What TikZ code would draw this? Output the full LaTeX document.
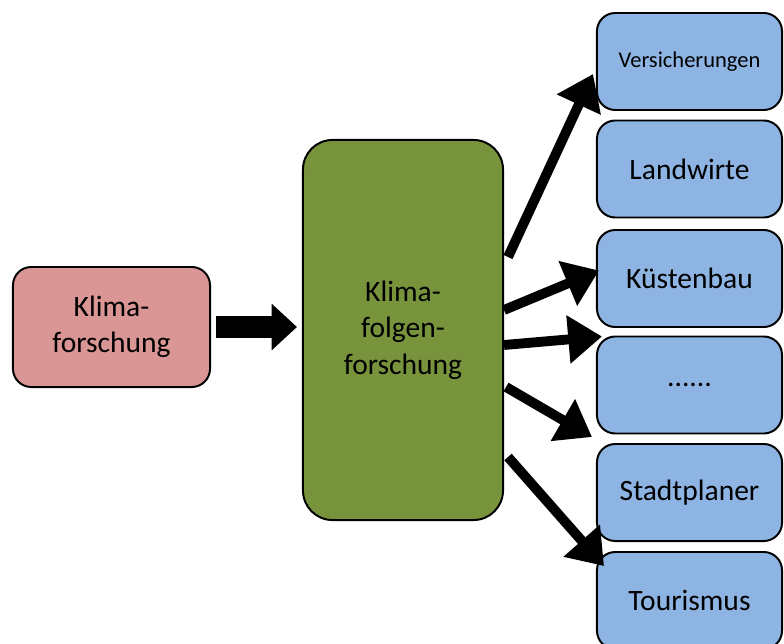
\documentclass[tikz,border=0pt]{standalone}
\usepackage{fontspec}
\setmainfont{Carlito}
\usepackage{tikz}
\usetikzlibrary{calc,arrows.meta}
\definecolor{rosebox}{HTML}{D99694}
\definecolor{greenbox}{HTML}{77933C}
\definecolor{bluebox}{HTML}{8EB4E3}
\tikzset{
  box/.style={draw=black, line width=1.4pt, rounded corners=13pt, inner sep=0pt,
    align=center, font=\fontsize{21}{26}\selectfont},
  src/.style={box, fill=rosebox, minimum width=4.925cm, minimum height=3cm},
  mid/.style={box, fill=greenbox, minimum width=5cm, minimum height=9.5cm, rounded corners=21pt},
  user/.style={box, fill=bluebox, minimum width=4.625cm, minimum height=2.425cm},
  big/.style={line width=16pt, -{Triangle[length=18pt,width=32pt]}},
  link/.style={line width=7pt, -{Triangle[length=24pt,width=33pt]}},
}
\begin{document}
\begin{tikzpicture}[x=0.025cm,y=-0.025cm]
  \useasboundingbox (0,0) rectangle (784,644);
  \clip (0,0) rectangle (784,644);
  % boxes
  \node[src] (klima) at (111.5,327) {Klima-\\forschung};
  \node[mid] (folgen) at (403,330) {Klima-\\folgen-\\forschung};
  \node[user, font=\fontsize{16}{20}\selectfont] (vers) at (689.5,61.5) {Versicherungen};
  \node[user] (land) at (689.5,169) {Landwirte};
  \node[user] (kues) at (689.5,278.5) {Küstenbau};
  \node[user] (dots) at (689.5,385) {......};
  \node[user] (stadt) at (689.5,492.5) {Stadtplaner};
  \node[user] (tour) at (689.5,600.5) {Tourismus};
  % arrows
  \draw[big] ($(klima.east)+(5,0)$) -- ($(klima.east -| folgen.west)+(-5,0)$);
  \draw[link] ($(folgen.east)+(4,-73)$) -- ($(vers.west)+(-3,12.5)$);
  \draw[link] ($(folgen.east)+(0,-20)$) -- ($(kues.west)+(3,-8)$);
  \draw[link] ($(folgen.east)+(0,15)$) -- ($(dots.north west)+(6,1)$);
  \draw[link] ($(folgen.east)+(2,57)$) -- ($(stadt.north west)+(-4,-6)$);
  \draw[link] ($(folgen.east)+(4,127)$) -- ($(tour.north west)+(8,15)$);
\end{tikzpicture}
\end{document}
